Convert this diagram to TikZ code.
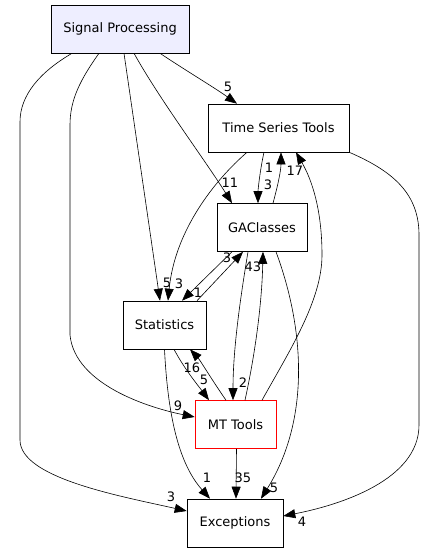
\documentclass[tikz,border=0pt]{standalone}
\usepackage{fontspec}
\setmainfont{DejaVu Sans}
\usetikzlibrary{arrows.meta}
\definecolor{sigfill}{HTML}{EEEEFF}

\begin{document}
\begin{tikzpicture}[
  x=1pt,y=-1pt,
  dir/.style={draw,minimum height=48pt,inner sep=0pt,line width=0.6pt,font=\fontsize{13}{15}\selectfont},
  lbl/.style={inner sep=0pt,font=\fontsize{13}{15}\selectfont},
  dep/.style={-{Triangle[length=12pt,width=9pt]},line width=0.6pt}
]
\useasboundingbox (0,0) rectangle (437,552);

% directories
\node[dir,fill=sigfill,minimum width=138pt] (sp) at (120,29) {Signal Processing};
\node[dir,minimum width=141pt] (tst) at (278.5,128) {Time Series Tools};
\node[dir,minimum width=90pt] (ga) at (262,227.5) {GAClasses};
\node[dir,minimum width=83pt] (st) at (164.5,325) {Statistics};
\node[dir,draw=red,minimum width=81pt] (mt) at (235.5,424.5) {MT Tools};
\node[dir,minimum width=96pt] (ex) at (235,523) {Exceptions};

% dependencies
\draw[dep] ([xshift=40pt]sp.south) .. controls (185,70) and (215,88) .. ([xshift=-41.5pt]tst.north);
\draw[dep] ([xshift=14pt]sp.south) .. controls (160,100) and (205,160) .. ([xshift=-30pt]ga.north);
\draw[dep] ([xshift=4pt]sp.south) -- ([xshift=-4.5pt]st.north);
\draw[dep] ([xshift=-21pt]sp.south) .. controls (80,80) and (70,100) .. (70,125) -- (70,335)
  .. controls (75,385) and (150,408) .. ([yshift=7.5pt]mt.west);
\draw[dep] ([xshift=-48pt]sp.south) .. controls (40,72) and (20,95) .. (20,122) -- (20,440)
  .. controls (20,478) and (120,496) .. ([yshift=12pt]ex.west);

\draw[dep] ([xshift=-14.5pt]tst.south) .. controls (260,170) and (258,190) .. ([xshift=-4pt]ga.north);
\draw[dep] ([xshift=11pt]ga.north) .. controls (278,185) and (281,170) .. ([xshift=2.5pt]tst.south);
\draw[dep] ([xshift=-31.5pt]tst.south) .. controls (215,180) and (175,230) .. ([xshift=3.5pt]st.north);
\draw[dep] (tst.south east) .. controls (395,172) and (419,195) .. (419,235) -- (419,425)
  .. controls (419,480) and (340,505) .. ([yshift=7pt]ex.east);
\draw[dep] ([xshift=26.5pt]mt.north) .. controls (290,350) and (322,300) .. (322,255)
  .. controls (322,210) and (312,180) .. ([xshift=17.5pt]tst.south);

\draw[dep] ([xshift=32.5pt]st.north) -- ([xshift=-19pt]ga.south);
\draw[dep] ([xshift=-30pt]ga.south) -- ([xshift=17.5pt]st.north);
\draw[dep] ([xshift=-14pt]ga.south) .. controls (240,300) and (233,350) .. ([xshift=-2.5pt]mt.north);
\draw[dep] ([xshift=9.5pt]mt.north) .. controls (256,350) and (262,300) .. ([xshift=1pt]ga.south);
\draw[dep] ([xshift=14pt]ga.south) .. controls (305,330) and (310,420) .. ([xshift=26pt]ex.north);

\draw[dep] ([xshift=9.5pt]st.south) .. controls (185,370) and (200,388) .. ([xshift=-26.5pt]mt.north);
\draw[dep] ([xshift=-9.5pt]mt.north) .. controls (212,380) and (200,360) .. ([xshift=25.5pt]st.south);
\draw[dep] (st.south) .. controls (168,420) and (180,465) .. ([xshift=-25pt]ex.north);
\draw[dep] ([xshift=1pt]mt.south) -- ([xshift=1pt]ex.north);

% counts
\node[lbl] (n1) at (228,87) {5};
\node[lbl] (n2) at (230,183) {11};
\node[lbl] (n3) at (167,283) {5};
\node[lbl] (n4) at (178,406) {9};
\node[lbl] (n5) at (171,497) {3};
\node[lbl] (n6) at (268,185) {3};
\node[lbl] (n7) at (269,168) {1};
\node[lbl] (n8) at (179,284) {3};
\node[lbl] (n9) at (302,522) {4};
\node[lbl] (n10) at (295,171) {17};
\node[lbl] (n11) at (227,258) {3};
\node[lbl] (n12) at (198,293) {1};
\node[lbl] (n13) at (243,383) {2};
\node[lbl] (n14) at (253,267) {43};
\node[lbl] (n15) at (274,488) {5};
\node[lbl] (n16) at (204,380) {5};
\node[lbl] (n17) at (192,368) {16};
\node[lbl] (n18) at (207,478) {1};
\node[lbl] (n19) at (243,478) {35};
\end{tikzpicture}
\end{document}
